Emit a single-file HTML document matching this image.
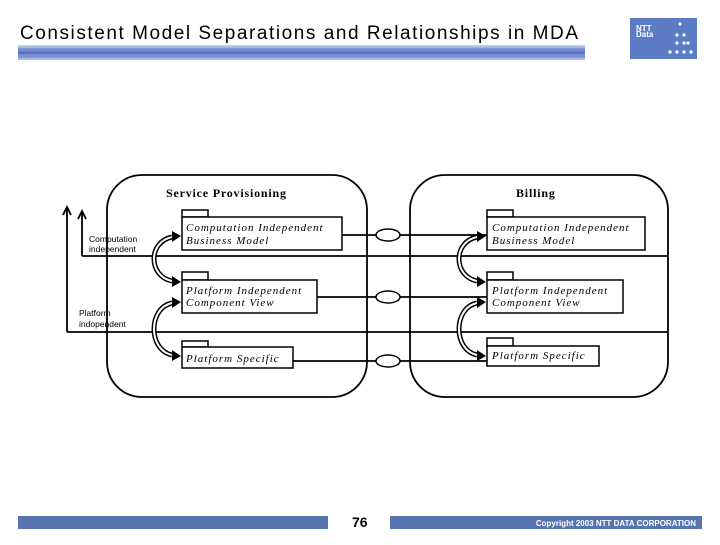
<!DOCTYPE html>
<html><head><style>
body{margin:0;width:720px;height:540px;background:#fff;overflow:hidden;font-family:"Liberation Sans",sans-serif}
</style></head><body>
<svg width="720" height="540" viewBox="0 0 720 540" xmlns="http://www.w3.org/2000/svg">
<defs>
<linearGradient id="st" x1="0" y1="0" x2="0" y2="1">
<stop offset="0" stop-color="#c8d4f0"/><stop offset="0.5" stop-color="#5a74c8"/><stop offset="1" stop-color="#b8c6ec"/>
</linearGradient>
</defs>
<text x="20" y="39" font-size="19" fill="#000" font-family="Liberation Sans,sans-serif" textLength="558" lengthAdjust="spacing">Consistent Model Separations and Relationships in MDA</text>
<rect x="18" y="45" width="567" height="15" fill="url(#st)"/>
<g stroke="#2a3f8f" stroke-width="0.6" opacity="0.6"><line x1="18" y1="49" x2="585" y2="49"/><line x1="18" y1="53" x2="585" y2="53"/><line x1="18" y1="57" x2="585" y2="57"/></g>
<rect x="630" y="18" width="67" height="41" fill="#5b7bc4"/>
<text x="636" y="31" font-size="8" fill="#fff" font-weight="bold">NTT</text>
<text x="636" y="37" font-size="8" fill="#fff" font-weight="bold">Data</text>
<g fill="#fff"><circle cx="680" cy="24" r="1.6"/><circle cx="677" cy="35" r="1.6"/><circle cx="684" cy="35" r="1.6"/><circle cx="677" cy="43" r="1.6"/><circle cx="684" cy="43" r="1.6"/><circle cx="688" cy="43" r="1.6"/><circle cx="670" cy="52" r="1.6"/><circle cx="677" cy="52" r="1.6"/><circle cx="684" cy="52" r="1.6"/><circle cx="691" cy="52" r="1.6"/></g>

<g fill="none" stroke="#000" stroke-width="1.8">
<rect x="107" y="175" width="260" height="222" rx="35"/>
<rect x="410" y="175" width="258" height="222" rx="35"/>
<path d="M82,256 H668"/>
<path d="M82,256 V212"/>
<path d="M78,219 L82,211 L86,219"/>
<path d="M67,332 H668"/>
<path d="M67,332 V208"/>
<path d="M63,215 L67,207 L71,215"/>
<line x1="342" y1="235" x2="487" y2="235"/>
<line x1="317" y1="297" x2="487" y2="297"/>
<line x1="293" y1="361" x2="487" y2="361"/>
</g>
<g fill="#fff" stroke="#000" stroke-width="1.5">
<ellipse cx="388" cy="235" rx="12" ry="6"/><ellipse cx="388" cy="297" rx="12" ry="6"/><ellipse cx="388" cy="361" rx="12" ry="6"/>
</g>
<g fill="#fff" stroke="#000" stroke-width="1.5">
<rect x="182" y="210" width="26" height="7"/><rect x="182" y="217" width="160" height="33"/>
<rect x="182" y="272" width="26" height="8"/><rect x="182" y="280" width="135" height="33"/>
<rect x="182" y="341" width="26" height="6"/><rect x="182" y="347" width="111" height="21"/>
<rect x="487" y="210" width="26" height="7"/><rect x="487" y="217" width="158" height="33"/>
<rect x="487" y="272" width="26" height="8"/><rect x="487" y="280" width="136" height="33"/>
<rect x="487" y="338" width="26" height="8"/><rect x="487" y="346" width="112" height="20"/>
</g>
<g font-family="Liberation Serif,serif" font-style="italic" font-size="11" letter-spacing="1">
<text x="186" y="231">Computation Independent</text><text x="186" y="244">Business Model</text>
<text x="186" y="294">Platform Independent</text><text x="186" y="306">Component View</text>
<text x="186" y="362">Platform Specific</text>
<text x="492" y="231">Computation Independent</text><text x="492" y="244">Business Model</text>
<text x="492" y="294">Platform Independent</text><text x="492" y="306">Component View</text>
<text x="492" y="359">Platform Specific</text>
</g>
<g font-family="Liberation Serif,serif" font-weight="bold" font-size="12" letter-spacing="0.8">
<text x="166" y="197">Service Provisioning</text><text x="516" y="197">Billing</text>
</g>
<g font-size="8.5" fill="#000">
<text x="89" y="242">Computation</text><text x="89" y="252">independent</text>
<text x="79" y="316">Platform</text><text x="79" y="327">indopendent</text>
</g>
<g fill="none">
<g id="ca">
<path d="M172,237 C148,242 148,276 172,281" stroke="#000" stroke-width="5"/>
<path d="M172,237 C148,242 148,276 172,281" stroke="#fff" stroke-width="2"/>
<path d="M172,231 L181,236 L172,242 Z M172,276 L181,282 L172,287 Z" fill="#000"/>
<path d="M172,303 C148,308 148,350 172,355" stroke="#000" stroke-width="5"/>
<path d="M172,303 C148,308 148,350 172,355" stroke="#fff" stroke-width="2"/>
<path d="M172,297 L181,302 L172,308 Z M172,350 L181,356 L172,361 Z" fill="#000"/>
</g>
<use href="#ca" transform="translate(305,0)"/>
</g>
<rect x="18" y="516" width="310" height="13" fill="#5675b0"/>
<rect x="390" y="516" width="312" height="13" fill="#5675b0"/>
<text x="352" y="527" font-size="14" font-weight="bold">76</text>
<text x="696" y="526" font-size="8" fill="#fff" font-weight="bold" text-anchor="end">Copyright 2003 NTT DATA CORPORATION</text>
</svg>
</body></html>
